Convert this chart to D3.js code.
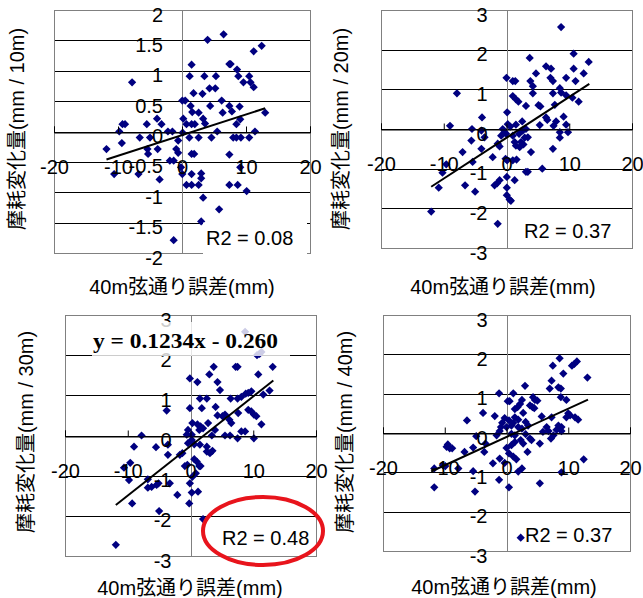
<!DOCTYPE html>
<html>
<head>
<meta charset="utf-8">
<script src="https://cdn.jsdelivr.net/npm/d3@7"></script>
<style>
  body { margin: 0; background: #fff; }
  text { font-family: "Liberation Sans", Arial, "Noto Sans CJK JP", sans-serif; fill: #000; }
  .title { font-size: 20px; }
  .tick text { font-size: 20px; }
</style>
</head>
<body>
<script>
// values: [chord error (mm), wear change]
const wear10m = [
  [6.5,1.60],[4.0,1.51],[12.45,1.41],[11.2,1.32],[1.5,1.10],[7.4,1.11],[7.6,1.11],[8.6,1.02],[-7.8,0.81],[1.2,0.91],
  [3.5,0.91],[5.3,0.91],[8.8,0.91],[10.5,0.91],[9.6,0.81],[10.7,0.81],[11.2,0.73],[4.3,0.71],[5.2,0.71],[1.8,0.63],
  [3.2,0.62],[6.2,0.51],[0.05,0.51],[0.5,0.51],[1.35,0.42],[4.4,0.42],[7.4,0.42],[9.0,0.41],[-3.9,0.21],[1.6,0.32],
  [2.6,0.31],[6.35,0.31],[7.8,0.33],[13.0,0.31],[3.3,0.21],[-3.2,0.12],[-9.3,0.12],[-8.9,0.12],[-5.5,0.12],[0.2,0.21],
  [0.7,0.12],[1.5,0.12],[2.0,0.12],[3.6,0.13],[8.5,0.12],[9.1,0.20],[-9.8,0.0],[-2.2,0.0],[-1.5,0.0],[0.1,-0.02],
  [5.5,0.0],[11.4,0.0],[-6.6,-0.10],[-5.0,-0.10],[1.15,-0.10],[2.6,-0.10],[4.6,-0.10],[8.0,-0.10],[8.5,-0.10],[9.2,-0.10],
  [10.5,-0.10],[-9.4,-0.19],[-0.6,-0.15],[-11.8,-0.29],[-5.4,-0.29],[-3.8,-0.29],[-0.9,-0.29],[-0.6,-0.35],[-5.3,-0.37],[1.5,-0.37],
  [1.9,-0.37],[7.4,-0.38],[-1.9,-0.48],[-1.3,-0.48],[-0.15,-0.59],[-10.6,-0.70],[-6.8,-0.70],[0.05,-0.70],[9.1,-0.59],[3.0,-0.69],
  [1.5,-0.70],[-3.5,-0.79],[3.0,-0.77],[0.7,-0.88],[1.5,-0.88],[2.6,-0.88],[7.4,-0.88],[8.7,-0.88],[10.1,-0.98],[3.3,-1.09],
  [5.8,-1.28],[3.0,-1.48],[-1.3,-1.79]
];

const wear20m = [
  [8.7,2.57],[10.7,1.9],[3.7,1.79],[13.1,1.69],[6.3,1.58],[7.1,1.52],[10.7,1.52],[4.7,1.4],[12.3,1.4],[9.5,1.29],
  [7.0,1.29],[7.4,1.21],[3.8,1.21],[0.0,1.29],[1.0,1.21],[1.4,1.21],[11.0,1.21],[4.2,1.08],[-7.9,0.9],[4.2,0.9],
  [7.4,0.9],[8.5,1.03],[8.7,0.92],[9.5,0.85],[11.5,0.69],[10.5,0.79],[1.0,0.83],[1.5,0.75],[1.9,0.69],[3.1,0.58],
  [5.1,0.6],[5.4,0.57],[7.7,0.61],[0.1,0.42],[6.3,0.29],[6.5,0.23],[-3.9,0.29],[9.1,0.31],[7.9,0.19],[-9.0,0.08],
  [-5.5,0.0],[-4.0,-0.04],[-3.5,-0.21],[-5.6,-0.29],[2.5,0.19],[1.5,0.11],[0.2,0.12],[0.6,0.06],[5.3,0.1],[7.5,0.08],
  [9.5,0.11],[9.8,-0.08],[8.5,-0.08],[8.5,-0.22],[-0.6,0.0],[-0.3,-0.08],[-0.85,-0.17],[-0.05,-0.12],[1.0,-0.17],[2.0,-0.12],
  [2.6,-0.04],[3.1,0.0],[2.9,-0.22],[1.3,-0.33],[1.5,-0.42],[2.1,-0.46],[2.3,-0.33],[2.7,-0.39],[3.4,-0.21],[3.9,-0.58],
  [7.4,-0.5],[-4.0,-0.5],[-1.4,-0.37],[-1.1,-0.44],[-7.0,-0.58],[-2.2,-0.71],[-0.15,-0.75],[0.1,-0.79],[1.0,-0.79],[1.6,-0.77],
  [-5.4,-0.83],[-9.6,-0.89],[-10.2,-1.1],[3.1,-1.08],[3.4,-1.08],[5.7,-1.0],[0.05,-1.21],[1.3,-1.29],[-1.1,-1.29],[-1.5,-1.37],
  [-1.9,-1.42],[-6.6,-1.42],[-10.8,-1.48],[0.05,-1.48],[-5.0,-1.58],[0.05,-1.67],[0.5,-1.78],[0.7,-1.81],[-12.0,-2.08],[-1.4,-2.39]
];

const wear30m = [
  [8.7,2.58],[11.0,2.03],[10.6,2.0],[11.3,2.08],[3.7,1.71],[7.2,1.71],[7.5,1.71],[13.1,1.71],[10.8,1.52],[3.0,1.52],
  [-0.1,1.42],[1.1,1.33],[4.3,1.33],[4.7,1.13],[9.7,1.1],[9.2,1.06],[8.8,1.04],[11.6,1.02],[12.6,1.12],[1.5,0.92],
  [2.6,0.92],[6.4,0.92],[7.5,0.92],[8.1,0.96],[-3.8,0.62],[-0.1,0.68],[1.8,0.68],[4.0,0.71],[9.2,0.64],[9.7,0.6],
  [10.1,0.52],[10.5,0.48],[4.3,0.5],[5.1,0.48],[5.5,0.52],[6.2,0.39],[6.5,0.31],[7.6,0.56],[11.3,0.28],[0.3,0.31],
  [1.1,0.28],[1.6,0.23],[2.8,0.31],[-0.4,0.14],[-0.6,0.02],[0.2,0.02],[1.4,0.14],[2.0,0.18],[3.4,0.0],[3.9,0.14],
  [5.5,0.0],[6.3,0.0],[7.5,-0.07],[8.1,0.1],[8.7,0.1],[10.1,-0.07],[-7.8,0.0],[-9.0,-0.28],[-5.5,-0.29],[-3.6,-0.23],
  [0.2,-0.11],[-0.4,-0.19],[0.6,-0.22],[1.5,-0.23],[2.6,-0.28],[2.6,-0.4],[3.1,-0.44],[3.5,-0.38],[-3.6,-0.48],[-1.7,-0.48],
  [-1.3,-0.44],[0.6,-0.59],[1.0,-0.65],[1.4,-0.76],[1.6,-0.76],[-0.9,-0.76],[-0.5,-0.73],[-10.6,-0.8],[-9.6,-0.68],[0.85,-0.94],
  [0.3,-1.03],[-9.8,-1.11],[-6.8,-1.09],[-3.3,-1.19],[-5.4,-1.23],[-5.1,-1.19],[-6.8,-1.3],[-6.2,-1.28],[-0.1,-1.19],[0.2,-1.42],
  [1.2,-1.4],[-2.1,-1.48],[-9.3,-1.69],[-0.2,-1.69],[-5.0,-1.88],[2.0,-2.08],[-11.9,-2.72]
];

const wear40m = [
  [8.6,1.9],[7.5,1.71],[11.4,1.82],[11.0,1.76],[10.6,1.71],[9.2,1.51],[13.1,1.41],[7.3,1.33],[3.0,1.2],[7.0,1.13],
  [8.4,1.16],[8.8,1.13],[-1.2,1.01],[1.1,1.01],[4.3,0.91],[4.6,0.84],[5.0,0.82],[2.5,0.84],[2.2,0.74],[0.2,0.81],
  [0.5,0.81],[8.8,0.91],[9.7,0.84],[3.8,0.7],[4.2,0.66],[4.5,0.63],[1.35,0.61],[1.8,0.66],[-3.8,0.51],[2.7,0.51],
  [5.7,0.42],[7.3,0.4],[-1.9,0.43],[10.0,0.5],[10.3,0.45],[9.7,0.4],[11.1,0.4],[11.6,0.34],[-6.4,0.32],[-0.3,0.38],
  [0.4,0.32],[-0.7,0.26],[1.1,0.26],[1.35,0.4],[1.9,0.34],[3.1,0.28],[3.5,0.19],[-0.9,0.15],[0.0,0.15],[0.8,0.19],
  [1.9,0.15],[2.5,0.11],[6.5,0.15],[6.8,0.05],[5.9,0.03],[8.4,0.19],[8.9,0.15],[8.1,0.08],[-1.6,-0.06],[-1.1,0.05],
  [-4.9,-0.08],[0.8,-0.02],[1.35,-0.06],[3.1,-0.03],[3.8,-0.14],[4.05,-0.18],[7.6,-0.06],[7.2,-0.14],[8.9,0.05],[-3.4,-0.27],
  [-9.5,-0.29],[-9.7,-0.35],[-9.2,-0.39],[-8.8,-0.39],[-5.4,-0.37],[0.8,-0.31],[1.35,-0.23],[2.7,-0.27],[2.3,-0.18],[5.4,-0.27],
  [-6.8,-0.48],[-3.6,-0.48],[3.4,-0.48],[0.0,-0.38],[0.4,-0.52],[-1.1,-0.65],[1.1,-0.6],[1.6,-0.67],[-2.2,-0.77],[-0.3,-0.76],
  [2.5,-0.9],[1.9,-0.98],[-10.3,-0.82],[-9.9,-0.84],[-7.8,-0.9],[-11.7,-0.9],[-5.4,-0.97],[8.9,-1.0],[12.5,-0.67],[-1.2,-1.19],
  [5.4,-1.28],[0.4,-1.38],[-11.7,-1.38],[-5.1,-1.49],[2.3,-2.66]
];

const xTicks = [-20, -10, 0, 10, 20];
const yTicksFine = [-2, -1.5, -1, -0.5, 0, 0.5, 1, 1.5, 2];
const yTicksCoarse = [-3, -2, -1, 0, 1, 2, 3];

// linear trend lines as shown: slope, intercept, x start, x end
const trendSlope = [0.034, 0.103, 0.1234, 0.072];
const trendIntercept = [-0.06, -0.22, -0.260, -0.10];
const trendFrom = [-11.8, -12.0, -11.9, -12.2];
const trendTo = [13.0, 13.2, 13.2, 13.2];

const r2Labels = ["R2 = 0.08", "R2 = 0.37", "R2 = 0.48", "R2 = 0.37"];
const yTitles = ["摩耗変化量(mm / 10m)", "摩耗変化量(mm / 20m)", "摩耗変化量(mm / 30m)", "摩耗変化量(mm / 40m)"];
const xTitle = "40m弦通り誤差(mm)";
const equationLabel = "y = 0.1234x - 0.260";

const panels = [
  { data: wear10m, yTicks: yTicksFine, left: 54, right: 310, top: 10, bottom: 253, ytX: 17, ytY: 129, xtX: 182, xtY: 287, r2X: 206, r2Y: 245 },
  { data: wear20m, yTicks: yTicksCoarse, left: 381, right: 632, top: 10, bottom: 248, ytX: 341, ytY: 129, xtX: 503, xtY: 287, r2X: 524, r2Y: 238 },
  { data: wear30m, yTicks: yTicksCoarse, left: 65, right: 316, top: 315, bottom: 556, ytX: 26, ytY: 432, xtX: 190, xtY: 588, r2X: 222, r2Y: 545 },
  { data: wear40m, yTicks: yTicksCoarse, left: 383, right: 630, top: 315, bottom: 551, ytX: 345, ytY: 432, xtX: 504, xtY: 587, r2X: 525, r2Y: 542 }
];

const svg = d3.select("body").append("svg")
  .attr("width", 643)
  .attr("height", 598);

const diamond = d3.symbol().type(d3.symbolSquare).size(34);

panels.forEach((p, i) => {
  const x = d3.scaleLinear().domain([-20, 20]).range([p.left, p.right]);
  const yExt = d3.extent(p.yTicks);
  const y = d3.scaleLinear().domain(yExt).range([p.bottom, p.top]);
  const g = svg.append("g");

  g.append("rect")
    .attr("x", p.left).attr("y", p.top)
    .attr("width", p.right - p.left).attr("height", p.bottom - p.top)
    .attr("fill", "#fff");

  // horizontal gridlines
  g.selectAll(".grid")
    .data(p.yTicks)
    .enter()
    .append("line")
    .attr("x1", p.left).attr("x2", p.right)
    .attr("y1", d => Math.round(y(d)) + 0.5)
    .attr("y2", d => Math.round(y(d)) + 0.5)
    .attr("stroke", "#000");

  g.append("rect")
    .attr("x", p.left + 0.5).attr("y", p.top + 0.5)
    .attr("width", p.right - p.left).attr("height", p.bottom - p.top)
    .attr("fill", "none")
    .attr("stroke", "#808080");

  // vertical axis line at x = 0
  g.append("line")
    .attr("x1", Math.round(x(0)) + 0.5).attr("x2", Math.round(x(0)) + 0.5)
    .attr("y1", p.top).attr("y2", p.bottom)
    .attr("stroke", "#808080");

  g.selectAll(".pt")
    .data(p.data)
    .enter()
    .append("path")
    .attr("d", diamond)
    .attr("transform", d => `translate(${x(d[0])},${y(d[1])}) rotate(45)`)
    .attr("fill", "#000080");

  g.append("line")
    .attr("x1", x(trendFrom[i]))
    .attr("y1", y(trendSlope[i] * trendFrom[i] + trendIntercept[i]))
    .attr("x2", x(trendTo[i]))
    .attr("y2", y(trendSlope[i] * trendTo[i] + trendIntercept[i]))
    .attr("stroke", "#000")
    .attr("stroke-width", 2);

  // x axis sits on y = 0, labels well below it
  const xAxis = g.append("g")
    .attr("transform", `translate(0,${Math.round(y(0)) + 0.5})`)
    .call(d3.axisBottom(x).tickValues(xTicks).tickFormat(d => String(d)).tickSize(-6).tickPadding(27));
  xAxis.select(".domain").attr("stroke", "#000");
  xAxis.selectAll(".tick line").attr("stroke", "#000");

  const yAxis = g.append("g")
    .attr("transform", `translate(${x(0)},0)`)
    .call(d3.axisLeft(y).tickValues(p.yTicks).tickFormat(d => String(d)).tickSize(0).tickPadding(19));
  yAxis.select(".domain").remove();
  yAxis.selectAll(".tick text").attr("dy", "0.55em");
  svg.selectAll(".tick text").attr("font-family", null);

  g.append("text")
    .attr("class", "title")
    .attr("x", p.xtX).attr("y", p.xtY)
    .attr("text-anchor", "middle")
    .attr("dominant-baseline", "central")
    .text(xTitle);

  g.append("text")
    .attr("class", "title")
    .attr("transform", `translate(${p.ytX},${p.ytY}) rotate(-90)`)
    .attr("text-anchor", "middle")
    .attr("dominant-baseline", "central")
    .text(yTitles[i]);

  if (i === 0) {
    g.append("rect")
      .attr("x", 203).attr("y", 222.5)
      .attr("width", 104).attr("height", 33)
      .attr("fill", "#fff");
  }

  if (i === 2) {
    g.append("rect")
      .attr("x", 92).attr("y", 322)
      .attr("width", 198).attr("height", 34)
      .attr("fill", "#fff")
      .attr("opacity", 0.8);
    g.append("text")
      .attr("x", 93).attr("y", 348)
      .attr("textLength", 185)
      .attr("lengthAdjust", "spacingAndGlyphs")
      .style("font-family", "'Liberation Serif', 'Times New Roman', serif")
      .style("font-weight", "bold")
      .style("font-size", "20px")
      .text(equationLabel);
  }

  g.append("text")
    .attr("class", "title")
    .attr("x", p.r2X).attr("y", p.r2Y)
    .text(r2Labels[i]);
});

// red highlight around the 30m R2
svg.append("ellipse")
  .attr("cx", 263).attr("cy", 531)
  .attr("rx", 60).attr("ry", 34)
  .attr("fill", "none")
  .attr("stroke", "#e8141c")
  .attr("stroke-width", 4);
</script>
</body>
</html>
